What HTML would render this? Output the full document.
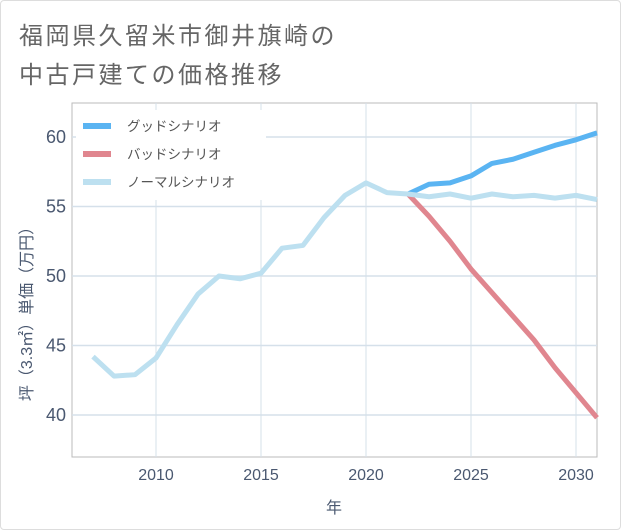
<!DOCTYPE html>
<html><head><meta charset="utf-8">
<style>
body{margin:0;background:#fff;}
#card{position:absolute;left:0;top:0;width:619px;height:528px;border:1px solid #ddd;border-radius:4px;background:#fff;}
.title{position:absolute;left:18px;font-family:"Liberation Sans","Noto Sans CJK JP",sans-serif;font-size:24px;color:#666;letter-spacing:2.5px;}
svg text{font-family:"Liberation Sans","Noto Sans CJK JP",sans-serif;}
</style></head>
<body>
<div id="card">
<div class="title" style="top:15px">福岡県久留米市御井旗崎の</div>
<div class="title" style="top:54px">中古戸建ての価格推移</div>
</div>
<svg id="chart" width="621" height="530" style="position:absolute;left:0;top:0"></svg>
<script>
const years=[2007,2008,2009,2010,2011,2012,2013,2014,2015,2016,2017,2018,2019,2020,2021,2022,2023,2024,2025,2026,2027,2028,2029,2030,2031];
const normalVals=[44.2,42.8,42.9,44.1,46.5,48.7,50.0,49.8,50.2,52.0,52.2,54.2,55.8,56.7,56.0,55.9,55.7,55.9,55.6,55.9,55.7,55.8,55.6,55.8,55.5];
const goodYears=[2022,2023,2024,2025,2026,2027,2028,2029,2030,2031];
const goodVals=[55.9,56.6,56.7,57.2,58.1,58.4,58.9,59.4,59.8,60.3];
const badVals=[55.9,54.3,52.5,50.5,48.8,47.1,45.4,43.4,41.6,39.8];
const xTicks=[2010,2015,2020,2025,2030];
const yTicks=[40,45,50,55,60];
const L=72,R=597,T=103,B=457;
const x=y=>156+(y-2010)*21;
const yy=v=>415-(v-40)*13.9;
const svg=document.getElementById('chart');
const NS='http://www.w3.org/2000/svg';
function mk(t,a){const e=document.createElementNS(NS,t);for(const k in a)e.setAttribute(k,a[k]);svg.appendChild(e);return e;}
let e=mk('rect',{x:L,y:T,width:R-L,height:B-T,fill:'#fff',stroke:'#bbb'});


xTicks.forEach(t=>{
 let g=mk('line',{x1:x(t),x2:x(t),y1:T,y2:B,stroke:'#d5e0ea','stroke-width':1});
 
 
 let l=mk('text',{x:x(t),y:480,'text-anchor':'middle','font-size':16,fill:'#4a5870'});l.textContent=t;
 
 
});
yTicks.forEach(t=>{
 let g=mk('line',{x1:L,x2:R,y1:yy(t),y2:yy(t),stroke:'#d5e0ea','stroke-width':1.5});
 
 
 let l=mk('text',{x:66,y:yy(t)+6,'text-anchor':'end','font-size':18,fill:'#4a5870'});l.textContent=t;
 
 
});
let xt=mk('text',{x:334,y:513,'text-anchor':'middle','font-size':16,fill:'#4a5870'});xt.textContent='年';


let yt=mk('text',{x:0,y:0,'text-anchor':'middle','font-size':16,fill:'#4a5870',transform:'translate(32,310) rotate(-90)'});yt.textContent='坪（3.3㎡）単価（万円）';


function line(xs,vs,c,name){
 let p=mk('polyline',{points:xs.map((t,i)=>x(t)+','+yy(vs[i])).join(' '),fill:'none',stroke:c,'stroke-width':5,'stroke-linejoin':'round'});
 
 
}
line(goodYears,badVals,'#e0868f','bad-scenario-line');
line(goodYears,goodVals,'#5ab4f2','good-scenario-line');
line(years,normalVals,'#bde0f0','normal-scenario-line');
let lb=mk('rect',{x:76,y:110,width:190,height:90,fill:'#fff'});


const legNames=['グッドシナリオ','バッドシナリオ','ノーマルシナリオ'];
const legColors=['#5ab4f2','#e0868f','#bde0f0'];
legNames.forEach((n,i)=>{
 const cy=126+i*28;
 let r=mk('rect',{x:83,y:cy-3,width:28,height:6,fill:legColors[i]});
 
 
 let t=mk('text',{x:127,y:cy+5,'font-size':13.5,fill:'#555'});t.textContent=n;
 
 
});
</script>
</body></html>
